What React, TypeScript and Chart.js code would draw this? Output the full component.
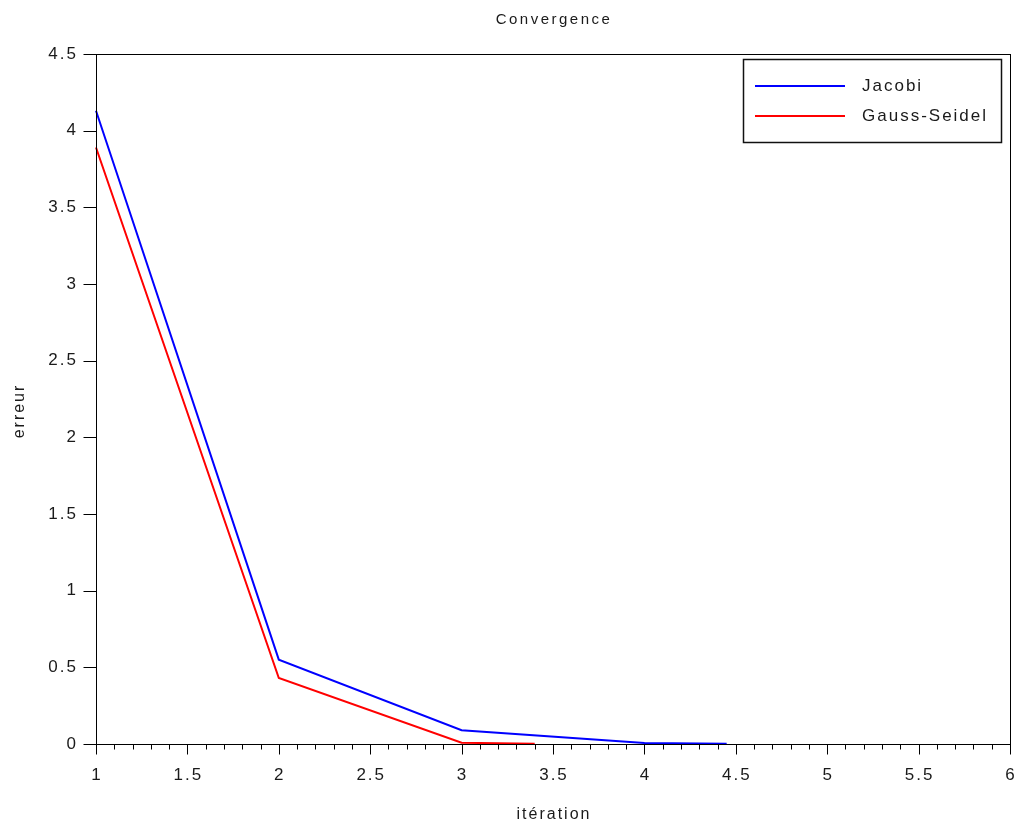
import React, { useEffect, useRef } from "react";
import { Chart, registerables } from "chart.js";

Chart.register(...registerables);

const chartTitle = "Convergence";
const xTitle = "itération";
const yTitle = "erreur";
const jacobiLabel = "Jacobi";
const gsLabel = "Gauss-Seidel";
const jacobiIter = [1, 2, 3, 4, 4.45];
const jacobiErr = [4.13, 0.55, 0.09, 0.006, 0.002];
const gsIter = [1, 2, 3, 3.4];
const gsErr = [3.89, 0.43, 0.008, 0.002];
const xMin = 1;
const xMax = 6;
const yMin = 0;
const yMax = 4.5;

const FONT = '"Liberation Sans", Arial, sans-serif';

const overlay = {
  id: "scilabOverlay",
  afterDraw(chart: any) {
    const ctx = chart.ctx as CanvasRenderingContext2D;
    const area = chart.chartArea;
    const xs = chart.scales.x;
    const ys = chart.scales.y;
    ctx.save();
    // box
    ctx.strokeStyle = "#000";
    ctx.lineWidth = 1;
    ctx.strokeRect(Math.round(area.left) + 0.5, Math.round(area.top) + 0.5, Math.round(area.right - area.left), Math.round(area.bottom - area.top));

    // x ticks
    const by = Math.round(area.bottom) + 0.5;
    ctx.beginPath();
    for (const t of xs.ticks) {
      const v = t.value;
      const px = Math.round(xs.getPixelForValue(v)) + 0.5;
      const major = Math.abs(v * 2 - Math.round(v * 2)) < 1e-6;
      ctx.moveTo(px, by);
      ctx.lineTo(px, by + (major ? 10 : 5));
    }
    ctx.stroke();
    // y ticks
    const lx = Math.round(area.left) + 0.5;
    ctx.beginPath();
    for (const t of ys.ticks) {
      const py = Math.round(ys.getPixelForValue(t.value)) + 0.5;
      ctx.moveTo(lx, py);
      ctx.lineTo(lx - 13, py);
    }
    ctx.stroke();

    (ctx as any).letterSpacing = "2px";
    ctx.fillStyle = "#1a1a1a";
    ctx.font = `17px ${FONT}`;
    // x labels
    ctx.textAlign = "center";
    ctx.textBaseline = "middle";
    for (const t of xs.ticks) {
      const v = t.value;
      const major = Math.abs(v * 2 - Math.round(v * 2)) < 1e-6;
      if (!major) continue;
      const px = xs.getPixelForValue(v);
      ctx.fillText(String(Math.round(v * 10) / 10), px + 1, area.bottom + 31);
    }
    // y labels
    ctx.textAlign = "right";
    for (const t of ys.ticks) {
      const py = ys.getPixelForValue(t.value);
      ctx.fillText(String(Math.round(t.value * 10) / 10), area.left - 18, py);
    }
    // title
    ctx.font = `15px ${FONT}`;
    (ctx as any).letterSpacing = "2.5px";
    ctx.textAlign = "center";
    ctx.fillText(chartTitle, (area.left + area.right) / 2 + 1, 20);
    // axis titles
    ctx.font = `16px ${FONT}`;
    (ctx as any).letterSpacing = "2px";
    ctx.fillText(xTitle, (area.left + area.right) / 2 + 1, 815);
    ctx.save();
    ctx.translate(20, 411);
    ctx.rotate(-Math.PI / 2);
    ctx.fillText(yTitle, 0, 0);
    ctx.restore();

    // legend
    ctx.fillStyle = "#fff";
    ctx.fillRect(744, 60, 257, 82);
    ctx.strokeStyle = "#111";
    ctx.lineWidth = 1.5;
    ctx.strokeRect(743.5, 59.5, 258, 83);
    const items = [
      { label: chart.data.datasets[0].label, color: chart.data.datasets[0].borderColor, y: 86 },
      { label: chart.data.datasets[1].label, color: chart.data.datasets[1].borderColor, y: 116 },
    ];
    ctx.textAlign = "left";
    ctx.font = `17px ${FONT}`;
    (ctx as any).letterSpacing = "2px";
    for (const it of items) {
      ctx.strokeStyle = it.color;
      ctx.lineWidth = 2;
      ctx.beginPath();
      ctx.moveTo(755, it.y);
      ctx.lineTo(845, it.y);
      ctx.stroke();
      ctx.fillStyle = "#1a1a1a";
      ctx.fillText(it.label, 862, it.y);
    }
    ctx.restore();
  },
};

export default function App() {
  const ref = useRef<HTMLCanvasElement | null>(null);
  useEffect(() => {
    document.body.style.margin = "0";
    const canvas = ref.current!;
    const chart = new Chart(canvas, {
      type: "line",
      data: {
        datasets: [
          {
            label: jacobiLabel,
            data: jacobiIter.map((x, i) => ({ x, y: jacobiErr[i] })),
            borderColor: "#0000ff",
            borderWidth: 2,
            pointRadius: 0,
            tension: 0,
            fill: false,
            clip: 4,
          },
          {
            label: gsLabel,
            data: gsIter.map((x, i) => ({ x, y: gsErr[i] })),
            borderColor: "#ff0000",
            borderWidth: 2,
            pointRadius: 0,
            tension: 0,
            fill: false,
            clip: 4,
          },
        ],
      },
      options: {
        animation: false,
        responsive: false,
        devicePixelRatio: 1,
        layout: { padding: { top: 54, right: 11, left: 0, bottom: 0 } },
        plugins: { legend: { display: false }, title: { display: false }, tooltip: { enabled: false } },
        scales: {
          x: {
            type: "linear",
            min: xMin,
            max: xMax,
            grid: { display: false },
            border: { display: false },
            ticks: { display: false, stepSize: 0.1, autoSkip: false },
            afterFit: (s: any) => { s.height = 83; },
          },
          y: {
            type: "linear",
            min: yMin,
            max: yMax,
            grid: { display: false },
            border: { display: false },
            ticks: { display: false, stepSize: 0.5 },
            afterFit: (s: any) => { s.width = 96; },
          },
        },
      },
      plugins: [overlay],
    });
    return () => chart.destroy();
  }, []);
  return (
    <div style={{ width: 1021, height: 827, background: "#fff" }}>
      <canvas ref={ref} width={1021} height={827} style={{ display: "block" }} />
    </div>
  );
}
